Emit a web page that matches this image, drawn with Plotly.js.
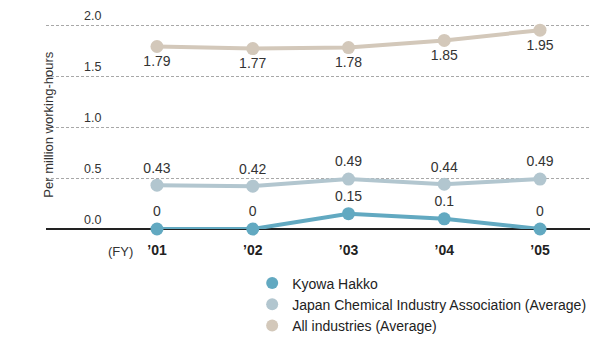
<!DOCTYPE html>
<html>
<head>
<meta charset="utf-8">
<script src="https://cdn.plot.ly/plotly-3.0.1.min.js"></script>
<style>html,body{margin:0;padding:0;background:#fff;}#chart{width:591px;height:338px;}</style>
</head>
<body>
<div id="chart"></div>
<script>
var years = [0, 1, 2, 3, 4];
var yearLabels = ['’01', '’02', '’03', '’04', '’05'];
var kyowa = [0, 0, 0.15, 0.1, 0];
var jcia = [0.43, 0.42, 0.49, 0.44, 0.49];
var allInd = [1.79, 1.77, 1.78, 1.85, 1.95];
var kyowaText = ['0', '0', '0.15', '0.1', '0'];
var jciaText = ['0.43', '0.42', '0.49', '0.44', '0.49'];
var allText = ['1.79', '1.77', '1.78', '1.85', '1.95'];
var yTicks = [0, 0.5, 1.0, 1.5, 2.0];
var yTickText = ['0.0', '0.5', '1.0', '1.5', '2.0'];
var names = ['Kyowa Hakko', 'Japan Chemical Industry Association (Average)', 'All industries (Average)'];
var colors = ['#62a9c1', '#b2c6cf', '#d3c8ba'];

var labelFont = {family: 'Liberation Sans, Arial, sans-serif', size: 14, color: '#333'};

function series(y, txt, pos, col) {
  return {
    x: years, y: y, text: txt, mode: 'lines+markers+text', textposition: pos,
    line: {color: col, width: 4}, marker: {color: col, size: 13},
    textfont: labelFont, cliponaxis: false, showlegend: false, hoverinfo: 'skip'
  };
}
var traces = [
  series(allInd, allText, 'bottom center', colors[2]),
  series(jcia, jciaText, 'top center', colors[1]),
  series(kyowa, kyowaText, 'top center', colors[0])
];
for (var i = 0; i < names.length; i++) {
  traces.push({x: [null], y: [null], mode: 'markers', name: names[i],
    marker: {color: colors[i], size: 12}, showlegend: true});
}

var annotations = [
  {text: 'Per million working-hours', xref: 'paper', yref: 'paper',
   x: 0.004, y: 0.5, xanchor: 'center', yanchor: 'middle', textangle: -90,
   showarrow: false, font: {family: 'Liberation Sans, Arial, sans-serif', size: 13, color: '#333'}},
  {text: '(FY)', xref: 'x', yref: 'paper', x: -0.386, y: 0, yanchor: 'top', yshift: -13,
   showarrow: false, font: {family: 'Liberation Sans, Arial, sans-serif', size: 13, color: '#333'}}
];
for (var k = 0; k < yTicks.length; k++) {
  annotations.push({text: yTickText[k], xref: 'paper', yref: 'y', x: 0.0665, y: yTicks[k],
    xanchor: 'left', yanchor: 'middle', yshift: 9, showarrow: false,
    font: {family: 'Liberation Sans, Arial, sans-serif', size: 12.5, color: '#333'}});
}

var layout = {
  width: 591, height: 338,
  margin: {l: 46, r: 1, t: 20, b: 109, autoexpand: false},
  paper_bgcolor: '#fff', plot_bgcolor: '#fff',
  font: {family: 'Liberation Sans, Arial, sans-serif', color: '#333'},
  showlegend: true,
  legend: {x: 0.379, y: -0.184, xanchor: 'left', yanchor: 'top', traceorder: 'normal',
    font: {family: 'Liberation Sans, Arial, sans-serif', size: 14, color: '#222'},
    bgcolor: 'rgba(0,0,0,0)', tracegroupgap: 0, itemwidth: 30},
  xaxis: {
    range: [-1.159, 4.522], tickvals: years, ticktext: yearLabels,
    showgrid: false, zeroline: false, showline: false,
    ticks: 'outside', ticklen: 8, tickcolor: 'rgba(0,0,0,0)',
    tickfont: {family: 'Liberation Sans, Arial, sans-serif', size: 14, color: '#222', weight: 'bold'},
    fixedrange: true
  },
  yaxis: {
    range: [0, 2.05], tickvals: yTicks, showticklabels: false,
    showgrid: true, gridcolor: '#a8a8a8', griddash: '3px,2px', gridwidth: 1,
    zeroline: true, zerolinecolor: '#222', zerolinewidth: 1.3, showline: false,
    fixedrange: true
  },
  annotations: annotations
};
Plotly.newPlot('chart', traces, layout, {displayModeBar: false, staticPlot: true});
</script>
</body>
</html>
